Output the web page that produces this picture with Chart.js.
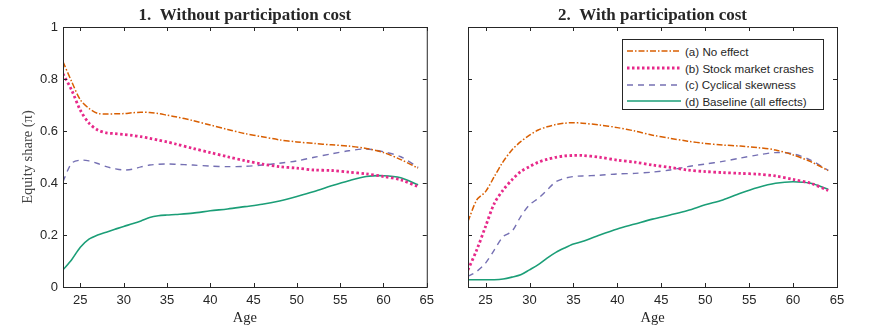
<!DOCTYPE html>
<html>
<head>
<meta charset="utf-8">
<script src="https://cdn.jsdelivr.net/npm/chart.js@4.4.1/dist/chart.umd.min.js"></script>
<style>
  body { margin: 0; background: #fff; width: 871px; height: 332px; position: relative; overflow: hidden; }
  .panel { position: absolute; top: 0; height: 332px; }
  #p1 { left: 0; width: 440px; }
  #p2 { left: 440px; width: 431px; }
  #legend {
    position: absolute; left: 622px; top: 39px; width: 202px; height: 71px;
    border: 1px solid #262626; background: #fff; padding-top: 3px; box-sizing: border-box;
    font: 11.6px "Liberation Sans", Arial, sans-serif; color: #262626;
  }
  #legend .row { height: 16.7px; display: flex; align-items: center; }
  #legend svg { margin: 0 4px 0 4px; }
</style>
</head>
<body>
<div class="panel" id="p1"><canvas id="chart1"></canvas></div>
<div class="panel" id="p2"><canvas id="chart2"></canvas></div>
<div id="legend"></div>
<script>
// ages on the x axis (model years)
const ages = [23, 24, 25, 26, 27, 28, 29, 30, 31, 32, 33, 34, 35, 36, 38, 40, 42, 44, 46, 48, 50, 52, 54, 56, 58, 60, 62, 64];
const xTicks = [25, 30, 35, 40, 45, 50, 55, 60, 65];
const yTicks = [0, 0.2, 0.4, 0.6, 0.8, 1];

const seriesLabels = ['(a) No effect', '(b) Stock market crashes', '(c) Cyclical skewness', '(d) Baseline (all effects)'];

// 1. Without participation cost
const noCostA = [.866, .79, .72, .687, .668, .665, .666, .667, .67, .672, .671, .667, .661, .655, .64, .623, .606, .59, .578, .566, .558, .552, .547, .542, .533, .517, .49, .457];
const noCostB = [.82, .757, .68, .63, .604, .593, .59, .587, .583, .578, .572, .565, .558, .55, .533, .517, .501, .486, .473, .463, .457, .45, .448, .442, .435, .425, .412, .386];
const noCostC = [.405, .476, .488, .485, .475, .463, .455, .45, .453, .462, .469, .472, .473, .472, .469, .465, .463, .464, .469, .476, .485, .499, .512, .524, .531, .52, .501, .46];
const noCostD = [.066, .105, .153, .184, .2, .211, .222, .233, .243, .254, .267, .274, .277, .279, .284, .293, .3, .309, .318, .331, .348, .367, .389, .409, .425, .428, .42, .393];

// 2. With participation cost
const costA = [.252, .335, .367, .425, .482, .527, .559, .584, .604, .616, .625, .63, .632, .63, .623, .613, .6, .584, .572, .561, .552, .546, .542, .536, .527, .508, .482, .448];
const costB = [.066, .143, .233, .322, .373, .412, .444, .463, .48, .491, .499, .504, .506, .506, .499, .488, .48, .469, .46, .45, .444, .44, .437, .434, .427, .414, .399, .371];
const costC = [.041, .06, .092, .143, .194, .214, .271, .316, .341, .373, .405, .418, .425, .427, .43, .435, .437, .442, .45, .463, .473, .483, .496, .508, .517, .512, .488, .448];
const costD = [.028, .028, .028, .028, .031, .038, .047, .066, .086, .111, .133, .15, .165, .175, .2, .223, .242, .261, .277, .294, .316, .335, .361, .383, .399, .405, .399, .376];

const styles = [
  { color: '#D95F02', dash: [6, 2, 1.5, 2], width: 1.5 },
  { color: '#E7298A', dash: [2.5, 2.5], width: 2.8 },
  { color: '#7570B3', dash: [6, 5], width: 1.4 },
  { color: '#1B9E77', dash: [], width: 1.6 }
];

const ink = '#262626';
const serif = '"Liberation Serif", "Times New Roman", serif';
const sans = '"Liberation Sans", Arial, sans-serif';

function makeDatasets(series) {
  return series.map((vals, i) => ({
    label: seriesLabels[i],
    data: ages.map((a, k) => ({ x: a, y: vals[k] })),
    borderColor: styles[i].color,
    borderDash: styles[i].dash,
    borderWidth: styles[i].width,
    borderCapStyle: 'butt',
    pointRadius: 0,
    tension: 0.3,
    fill: false
  }));
}

// matlab style box with inward ticks on all four sides
const boxPlugin = {
  id: 'box',
  afterDraw(chart) {
    const { ctx, chartArea: a, scales } = chart;
    ctx.save();
    ctx.strokeStyle = ink;
    ctx.lineWidth = 1;
    ctx.strokeRect(a.left + 0.5, a.top + 0.5, a.right - a.left, a.bottom - a.top);
    ctx.beginPath();
    xTicks.forEach(v => {
      const px = Math.round(scales.x.getPixelForValue(v)) + 0.5;
      ctx.moveTo(px, a.bottom); ctx.lineTo(px, a.bottom - 4);
      ctx.moveTo(px, a.top); ctx.lineTo(px, a.top + 4);
    });
    yTicks.forEach(v => {
      const py = Math.round(scales.y.getPixelForValue(v)) + 0.5;
      ctx.moveTo(a.left, py); ctx.lineTo(a.left + 4, py);
      ctx.moveTo(a.right, py); ctx.lineTo(a.right - 4, py);
    });
    ctx.stroke();
    ctx.restore();
  }
};

function makeChart(id, titleText, series, showY, yWidth, padRight) {
  return new Chart(document.getElementById(id), {
    type: 'line',
    data: { datasets: makeDatasets(series) },
    plugins: [boxPlugin],
    options: {
      responsive: true,
      maintainAspectRatio: false,
      animation: false,
      layout: { padding: { left: 0, right: padRight, top: 0, bottom: 0 } },
      plugins: {
        legend: { display: false },
        tooltip: { enabled: false },
        title: {
          display: true,
          text: titleText,
          fullSize: false,
          color: ink,
          font: { family: serif, size: 17, weight: 'bold', lineHeight: 1.2 },
          padding: { top: 5, bottom: 1.6 }
        }
      },
      scales: {
        x: {
          type: 'linear', min: 23, max: 65,
          afterBuildTicks: s => { s.ticks = xTicks.map(v => ({ value: v })); },
          afterFit: s => { s.height = 45; },
          grid: { display: false, drawTicks: false },
          border: { display: false },
          ticks: { color: ink, font: { family: sans, size: 13 }, padding: 6, maxRotation: 0 },
          title: { display: true, text: 'Age', color: ink, font: { family: serif, size: 14.5 }, padding: { top: 0, bottom: 5 } }
        },
        y: {
          min: 0, max: 1,
          afterBuildTicks: s => { s.ticks = yTicks.map(v => ({ value: v })); },
          afterFit: s => { s.width = yWidth; },
          grid: { display: false, drawTicks: false },
          border: { display: false },
          ticks: { display: showY, color: ink, font: { family: sans, size: 13 }, padding: 5, callback: v => String(+v.toFixed(1)) },
          title: { display: showY, text: 'Equity share (π)', color: '#444', font: { family: serif, size: 14.5 }, padding: { top: 19, bottom: 0 } }
        }
      }
    }
  });
}

makeChart('chart1', '1.  Without participation cost', [noCostA, noCostB, noCostC, noCostD], true, 63, 7);
makeChart('chart2', '2.  With participation cost', [costA, costB, costC, costD], false, 28, 34);

// legend box inside panel 2
const legend = document.getElementById('legend');
seriesLabels.forEach((label, i) => {
  const st = styles[i];
  const row = document.createElement('div');
  row.className = 'row';
  row.innerHTML = '<svg width="54" height="6"><line x1="0" y1="3" x2="54" y2="3" stroke="' + st.color +
    '" stroke-width="' + st.width + '" stroke-dasharray="' + (st.dash.join(',') || 'none') + '"/></svg><span>' + label + '</span>';
  legend.appendChild(row);
});
</script>
</body>
</html>
